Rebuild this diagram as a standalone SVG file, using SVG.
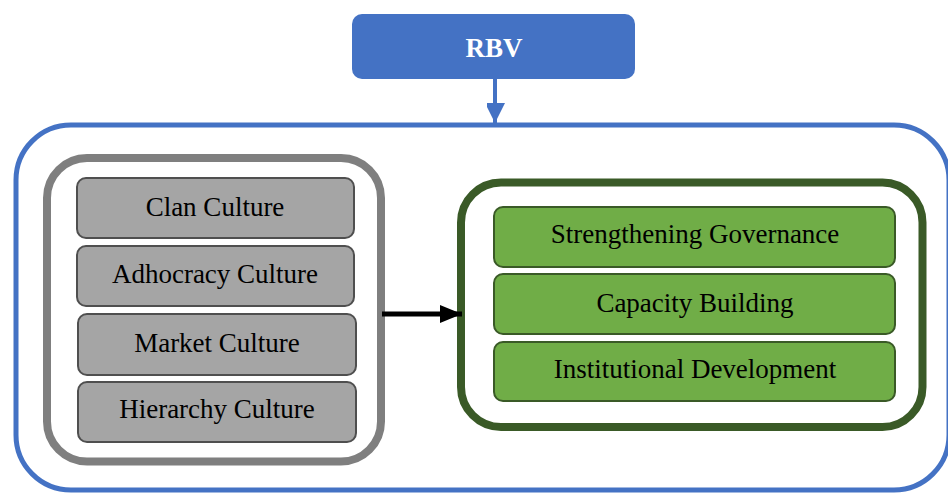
<svg xmlns="http://www.w3.org/2000/svg" width="948" height="493" viewBox="0 0 948 493">
<style>
.lbl{font-family:"Liberation Serif","Times New Roman",serif;font-size:27px;fill:#000;text-anchor:middle}
.gbox{fill:#A5A5A5;stroke:#4F4F4F;stroke-width:2}
.grbox{fill:#70AD47;stroke:#3A5A27;stroke-width:2}
</style>
<defs>
<marker id="ahBlue" markerWidth="5" markerHeight="4.5" refX="5" refY="2.5" orient="auto" markerUnits="strokeWidth">
<path d="M0,0 L5,2.5 L0,5 Z" fill="#4472C4"/>
</marker>
<marker id="ahBlack" markerWidth="4.4" markerHeight="3.6" refX="4.4" refY="1.8" orient="auto" markerUnits="strokeWidth">
<path d="M0,0 L4.4,1.8 L0,3.6 Z" fill="#000"/>
</marker>
</defs>
<rect width="948" height="493" fill="#fff"/>
<g id="outer">
<rect x="16" y="125" width="933" height="365" rx="55" fill="none" stroke="#4472C4" stroke-width="5"/>
</g>
<g id="rbv">
<rect x="352" y="14" width="283" height="65" rx="10" fill="#4472C4"/>
<text x="494" y="57" font-family="Liberation Serif,Times New Roman,serif" font-size="27" font-weight="bold" fill="#fff" text-anchor="middle">RBV</text>
</g>
<g id="culture-group">
<rect x="47" y="158" width="334" height="303.5" rx="40" fill="#fff" stroke="#7F7F7F" stroke-width="8"/>
</g>
<g id="clan"><rect class="gbox" x="77" y="178" width="277" height="60" rx="9"/><text class="lbl" x="215" y="216">Clan Culture</text></g>
<g id="adhocracy"><rect class="gbox" x="77" y="246" width="277" height="60" rx="9"/><text class="lbl" x="215" y="283">Adhocracy Culture</text></g>
<g id="market"><rect class="gbox" x="78" y="314" width="278" height="61" rx="9"/><text class="lbl" x="217" y="352">Market Culture</text></g>
<g id="hierarchy"><rect class="gbox" x="78" y="382" width="278" height="60" rx="9"/><text class="lbl" x="217" y="418">Hierarchy Culture</text></g>
<g id="outcome-group">
<rect x="461" y="182.5" width="461.5" height="244.5" rx="40" fill="#fff" stroke="#3A5A27" stroke-width="8"/>
</g>
<g id="governance"><rect class="grbox" x="494" y="207" width="401" height="60" rx="9"/><text class="lbl" x="695" y="243">Strengthening Governance</text></g>
<g id="capacity"><rect class="grbox" x="494" y="274" width="401" height="60" rx="9"/><text class="lbl" x="695" y="312">Capacity Building</text></g>
<g id="institutional"><rect class="grbox" x="494" y="342" width="401" height="59" rx="9"/><text class="lbl" x="695" y="378">Institutional Development</text></g>
<g id="connectors">
<line x1="495" y1="79" x2="495" y2="123" stroke="#4472C4" stroke-width="4" marker-end="url(#ahBlue)"/>
<line x1="382" y1="314" x2="462" y2="314" stroke="#000" stroke-width="5" marker-end="url(#ahBlack)"/>
</g>
</svg>
